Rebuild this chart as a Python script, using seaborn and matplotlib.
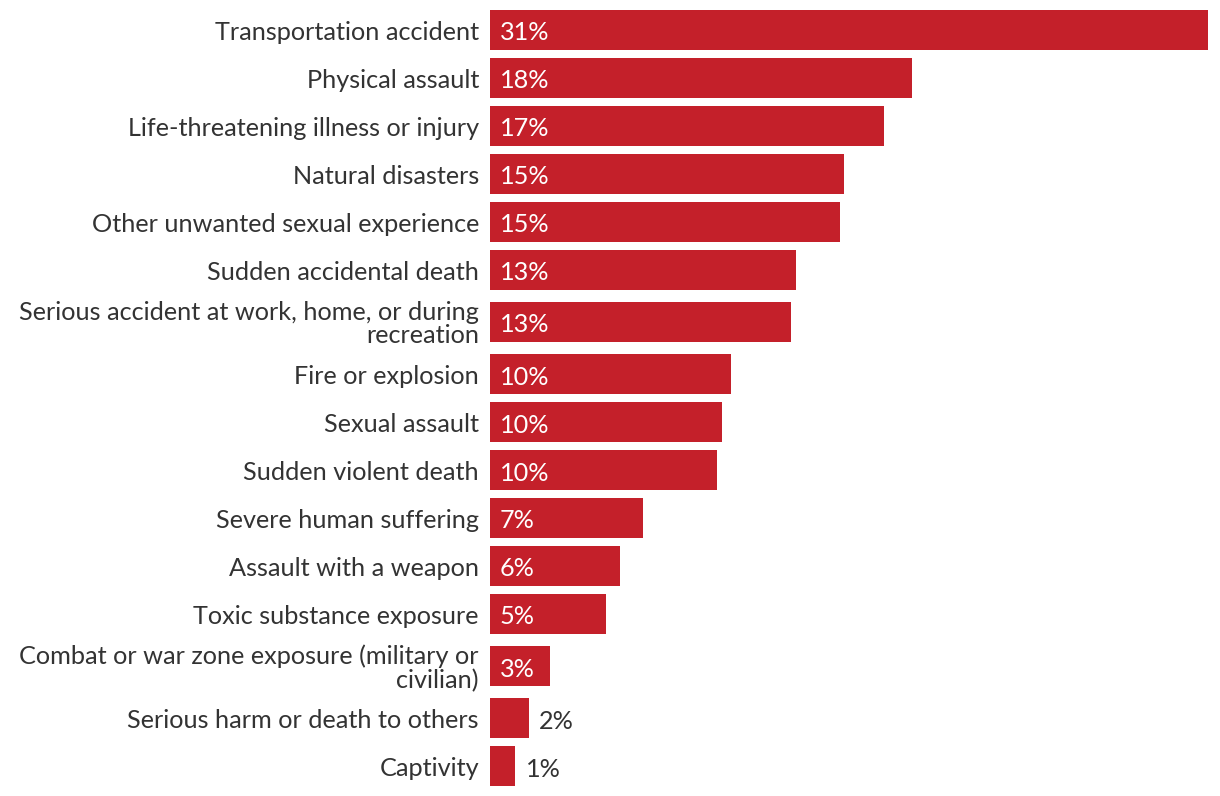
import matplotlib
matplotlib.use("Agg")
import matplotlib.pyplot as plt
import seaborn as sns
import pandas as pd
import numpy as np

categories = [
    "Transportation accident",
    "Physical assault",
    "Life-threatening illness or injury",
    "Natural disasters",
    "Other unwanted sexual experience",
    "Sudden accidental death",
    "Serious accident at work, home, or during\nrecreation",
    "Fire or explosion",
    "Sexual assault",
    "Sudden violent death",
    "Severe human suffering",
    "Assault with a weapon",
    "Toxic substance exposure",
    "Combat or war zone exposure (military or\ncivilian)",
    "Serious harm or death to others",
    "Captivity",
]
values = [31.0, 18.2, 17.0, 15.3, 15.1, 13.2, 13.0, 10.4, 10.0, 9.8, 6.6, 5.6, 5.0, 2.6, 1.7, 1.1]
value_labels = ["31%", "18%", "17%", "15%", "15%", "13%", "13%", "10%", "10%", "10%",
                "7%", "6%", "5%", "3%", "2%", "1%"]

BAR = "#C4202A"
TEXT = "#333333"
FS = 18.2

sns.set_theme(style="white")
plt.rcParams["font.family"] = ["Lato", "DejaVu Sans"]

# row layout: base row pitch 48 px, extra 4 px on each side of a two-line label
ROW = 48.0
BAR_H = 40.0
EXTRA = 4.0 / ROW
lines = np.array([c.count("\n") + 1 for c in categories])
half = 0.5 + EXTRA * (lines - 1)           # half row height (row units)
pos = np.concatenate([[half[0]], half[0] + np.cumsum(half[:-1] + half[1:])])
total = pos[-1] + half[-1]

df = pd.DataFrame({"category": categories, "value": values, "pos": pos})

W, H = 1220, 796
fig = plt.figure(figsize=(W / 100, H / 100), dpi=100)
top_px = 10 - (ROW - BAR_H) / 2
ax_h = total * ROW
ax = fig.add_axes([490 / W, 1 - (top_px + ax_h) / H, (1208 - 490) / W, ax_h / H])

sns.barplot(data=df, x="value", y="pos", orient="h", native_scale=True, color=BAR,
            width=BAR_H / ROW, saturation=1, linewidth=0, ax=ax)

ax.set_xlim(0, max(values))
ax.set_ylim(total, 0)
ax.set_xlabel("")
ax.set_ylabel("")
ax.set_xticks([])
ax.set_yticks(pos)
ax.set_yticklabels(categories)
for s in ax.spines.values():
    s.set_visible(False)
ax.tick_params(axis="y", length=0, pad=8, labelsize=FS, labelcolor=TEXT)
for t in ax.get_yticklabels():
    t.set_horizontalalignment("right")
    t.set_linespacing(1.02)

for p, v, lab in zip(pos, values, value_labels):
    if v > 2.2:
        ax.annotate(lab, xy=(0, p), xytext=(10, -1), textcoords="offset pixels",
                    ha="left", va="center_baseline", color="white", fontsize=FS)
    else:
        ax.annotate(lab, xy=(v, p), xytext=(10, -1), textcoords="offset pixels",
                    ha="left", va="center_baseline", color=TEXT, fontsize=FS)

fig.savefig("out.png", dpi=100)
